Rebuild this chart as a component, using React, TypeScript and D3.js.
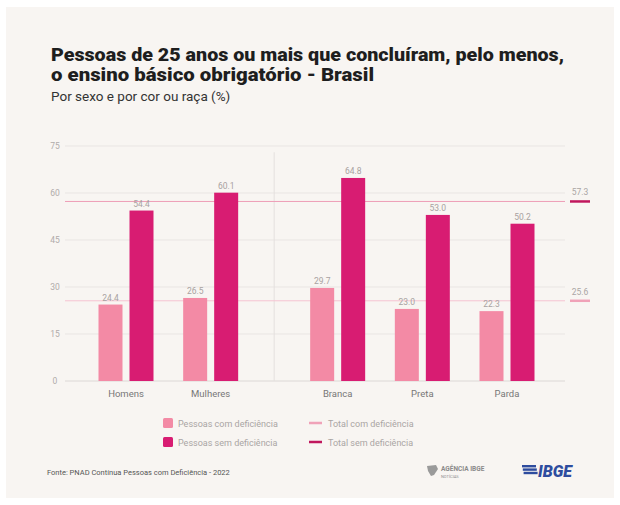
import { useRef, useEffect } from 'react';
import * as d3 from 'd3';

const CATEGORIES = ['Homens', 'Mulheres', 'Branca', 'Preta', 'Parda'];
const SECTION = [0, 0, 1, 1, 1]; // 0 = por sexo, 1 = por cor ou raça
const COM_DEF = [24.4, 26.5, 29.7, 23.0, 22.3];
const SEM_DEF = [54.4, 60.1, 64.8, 53.0, 50.2];
const Y_TICKS = [0, 15, 30, 45, 60, 75];
const TOTAL_COM = 25.6;
const TOTAL_SEM = 57.3;

const LIGHT = '#f38aa5';
const DARK = '#d81c72';
const FONT = 'Roboto, "Noto Sans", sans-serif';

const W = 620;
const H = 505;

export default function App() {
  const svgRef = useRef<SVGSVGElement>(null);

  useEffect(() => {
    if (!svgRef.current) return;
    const svg = d3.select(svgRef.current);
    svg.selectAll('*').remove();

    // Panel
    svg.append('rect').attr('width', W).attr('height', H).attr('fill', '#ffffff');
    svg.append('rect')
      .attr('x', 6).attr('y', 7)
      .attr('width', 608).attr('height', 491)
      .attr('fill', '#f8f5f2');

    // Titles
    const title = svg.append('g')
      .attr('font-family', FONT)
      .attr('font-weight', 900)
      .attr('font-size', 17.5)
      .attr('fill', '#1e1e1e');
    title.append('text').attr('x', 51).attr('y', 61)
      .attr('textLength', 513).attr('lengthAdjust', 'spacingAndGlyphs')
      .text('Pessoas de 25 anos ou mais que concluíram, pelo menos,');
    title.append('text').attr('x', 51).attr('y', 81)
      .attr('textLength', 323).attr('lengthAdjust', 'spacingAndGlyphs')
      .text('o ensino básico obrigatório - Brasil');
    svg.append('text')
      .attr('x', 51).attr('y', 101)
      .attr('font-family', FONT)
      .attr('font-size', 13.5)
      .attr('fill', '#333')
      .text('Por sexo e por cor ou raça (%)');

    // Scales
    const y = d3.scaleLinear().domain([0, 75]).range([381, 146]);
    const x = d3.scaleLinear().domain([0, 4.5]).range([126, 507]);
    const sub = d3.scaleBand<string>()
      .domain(['com', 'sem'])
      .range([-27.5, 27.5])
      .paddingInner(0.226);
    const slot = (i: number) => x(i + SECTION[i] * 0.5);

    const plotLeft = 65;
    const plotRight = 565;

    // Grid
    const grid = svg.append('g');
    Y_TICKS.forEach(t => {
      grid.append('line')
        .attr('x1', plotLeft).attr('x2', plotRight)
        .attr('y1', y(t)).attr('y2', y(t))
        .attr('stroke', t === 0 ? '#dcd8d6' : '#e9e5e3')
        .attr('stroke-width', 1);
      grid.append('text')
        .attr('x', 55).attr('y', y(t) + 3)
        .attr('text-anchor', 'middle')
        .attr('font-family', FONT)
        .attr('font-size', 8.5)
        .attr('fill', '#b0abaa')
        .text(t);
    });

    // Separator between sections
    const sepX = (slot(1) + slot(2)) / 2;
    svg.append('line')
      .attr('x1', sepX).attr('x2', sepX)
      .attr('y1', y(73)).attr('y2', y(0))
      .attr('stroke', '#e4e0de')
      .attr('stroke-width', 1);

    // Reference lines
    const refs = [
      { value: TOTAL_COM, thin: '#f6c3d1', mark: '#f0a2b8' },
      { value: TOTAL_SEM, thin: '#ee9db6', mark: '#c0175d' },
    ];
    refs.forEach(r => {
      svg.append('line')
        .attr('x1', plotLeft).attr('x2', plotRight)
        .attr('y1', y(r.value)).attr('y2', y(r.value))
        .attr('stroke', r.thin)
        .attr('stroke-width', 1);
      svg.append('line')
        .attr('x1', 570).attr('x2', 590)
        .attr('y1', y(r.value)).attr('y2', y(r.value))
        .attr('stroke', r.mark)
        .attr('stroke-width', 2.5);
      svg.append('text')
        .attr('x', 580).attr('y', y(r.value) - 6)
        .attr('text-anchor', 'middle')
        .attr('font-family', FONT)
        .attr('font-size', 8.5)
        .attr('fill', '#aaa5a4')
        .text(r.value.toFixed(1));
    });

    // Bars
    const bars = svg.append('g');
    CATEGORIES.forEach((cat, i) => {
      const cx = slot(i);
      [
        { key: 'com', value: COM_DEF[i], colour: LIGHT },
        { key: 'sem', value: SEM_DEF[i], colour: DARK },
      ].forEach(b => {
        const bx = cx + (sub(b.key) as number);
        bars.append('rect')
          .attr('x', bx)
          .attr('y', y(b.value))
          .attr('width', sub.bandwidth())
          .attr('height', y(0) - y(b.value))
          .attr('fill', b.colour);
        bars.append('text')
          .attr('x', bx + sub.bandwidth() / 2)
          .attr('y', y(b.value) - 4)
          .attr('text-anchor', 'middle')
          .attr('font-family', FONT)
          .attr('font-size', 8.5)
          .attr('fill', '#a8a2a1')
          .text(b.value.toFixed(1));
      });
      bars.append('text')
        .attr('x', cx)
        .attr('y', 397)
        .attr('text-anchor', 'middle')
        .attr('font-family', FONT)
        .attr('font-size', 9.5)
        .attr('fill', '#777')
        .text(cat);
    });

    // Legend
    const legend = svg.append('g')
      .attr('font-family', FONT)
      .attr('font-size', 9)
      .attr('fill', '#aaa5a4');
    [
      { label: 'Pessoas com deficiência', colour: LIGHT, yy: 423 },
      { label: 'Pessoas sem deficiência', colour: DARK, yy: 442 },
    ].forEach(l => {
      legend.append('rect')
        .attr('x', 163).attr('y', l.yy - 5)
        .attr('width', 10).attr('height', 10)
        .attr('rx', 1.5)
        .attr('fill', l.colour);
      legend.append('text').attr('x', 178).attr('y', l.yy + 3.5).text(l.label);
    });
    [
      { label: 'Total com deficiência', colour: '#f0a2b8', yy: 423 },
      { label: 'Total sem deficiência', colour: '#c0175d', yy: 442 },
    ].forEach(l => {
      legend.append('line')
        .attr('x1', 309).attr('x2', 322)
        .attr('y1', l.yy).attr('y2', l.yy)
        .attr('stroke', l.colour)
        .attr('stroke-width', 2.5);
      legend.append('text').attr('x', 328).attr('y', l.yy + 3.5).text(l.label);
    });

    // Footer
    svg.append('text')
      .attr('x', 47).attr('y', 475)
      .attr('font-family', FONT)
      .attr('font-size', 7.5)
      .attr('fill', '#555')
      .text('Fonte: PNAD Contínua Pessoas com Deficiência - 2022');

    const agencia = svg.append('g').attr('font-family', FONT).attr('fill', '#8a8a8a');
    agencia.append('path')
      .attr('d', 'M427,466 L436,465 L438,469 L434,475 L431,476 L428,471 Z')
      .attr('fill', '#9a9a9a');
    agencia.append('text').attr('x', 441).attr('y', 471)
      .attr('font-size', 6.5).attr('font-weight', 700)
      .text('AGÊNCIA IBGE');
    agencia.append('text').attr('x', 441).attr('y', 478)
      .attr('font-size', 4)
      .text('NOTÍCIAS');

    const ibge = svg.append('g');
    [0, 1, 2].forEach(k => {
      ibge.append('rect')
        .attr('x', 522 + k * 0.8).attr('y', 465 + k * 3.4)
        .attr('width', 14).attr('height', 2.4)
        .attr('fill', '#2e4c9e');
    });
    ibge.append('text')
      .attr('x', 538).attr('y', 477)
      .attr('font-family', FONT)
      .attr('font-size', 16)
      .attr('font-weight', 900)
      .attr('font-style', 'italic')
      .attr('fill', '#2e4c9e')
      .text('IBGE');
  }, []);

  return (
    <svg
      ref={svgRef}
      width={W}
      height={H}
      style={{ position: 'absolute', left: 0, top: 0 }}
    />
  );
}
